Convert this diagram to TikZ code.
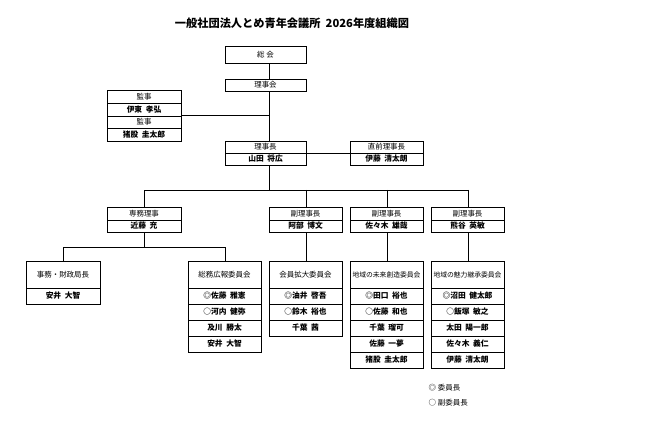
\documentclass[tikz,border=0pt]{standalone}
\usepackage{fontspec}
\setmainfont{Noto Sans CJK JP}
\begin{document}
\begin{tikzpicture}[x=0.75pt,y=-0.75pt,
 bx/.style={draw,line width=0.6pt,fill=white},
 t/.style={font=\fontsize{5.6}{6}\selectfont},
 nm/.style={font=\fontsize{5.8}{6}\selectfont\bfseries},
 ln/.style={line width=0.6pt}]
\useasboundingbox (0,0) rectangle (652,423);
\newcommand\cell[6]{% x1 y1 x2 y2 text style
 \draw[bx] (#1,#2) rectangle (#3,#4);
 \node[#6] at ({(#1+#3)/2},{(#2+#4)/2}) {#5};}
\node[font=\fontsize{8.4}{10}\selectfont\bfseries] (title) at (292,23) {一般社団法人とめ青年会議所\ \ 2026年度組織図};
% connectors
\coordinate (c1) at (269,63); \coordinate (c2) at (269,190);
\draw[ln] (c1) -- (c2);
\coordinate (k1) at (181,115); \coordinate (k2) at (269,115);
\draw[ln] (k1) -- (k2);
\coordinate (z1) at (306,153); \coordinate (z2) at (350,153);
\draw[ln] (z1) -- (z2);
\draw[ln] (144,207) |- (468,190);
\foreach \x in {306,387,468} \draw[ln] (\x,190) -- (\x,207);
\draw[ln] (144,232) -- (144,247);
\draw[ln] (63,261) |- (225,247) -- (225,261);
\foreach \x in {306,387,468} \draw[ln] (\x,232) -- (\x,261);
% top
\cell{225}{46}{306}{63}{総\ 会}{t}
\cell{225}{79}{306}{91}{理事会}{t}
\cell{107}{90}{181}{103}{監事}{t}
\cell{107}{103}{181}{116}{伊東\ \ 孝弘}{nm}
\cell{107}{116}{181}{128}{監事}{t}
\cell{107}{128}{181}{141}{猪股\ \ 圭太郎}{nm}
\cell{225}{141}{306}{153}{理事長}{t}
\cell{225}{153}{306}{165}{山田\ \ 将広}{nm}
\cell{350}{141}{423}{153}{直前理事長}{t}
\cell{350}{153}{423}{165}{伊藤\ \ 清太朗}{nm}
% row 2
\cell{107}{207}{181}{220}{専務理事}{t}
\cell{107}{220}{181}{232}{近藤\ \ 充}{nm}
\cell{269}{207}{342}{220}{副理事長}{t}
\cell{269}{220}{342}{232}{阿部\ \ 博文}{nm}
\cell{350}{207}{423}{220}{副理事長}{t}
\cell{350}{220}{423}{232}{佐々木\ \ 雄哉}{nm}
\cell{431}{207}{504}{220}{副理事長}{t}
\cell{431}{220}{504}{232}{熊谷\ \ 英敏}{nm}
% row 3
\cell{26}{261}{100}{288}{事務・財政局長}{t}
\cell{26}{288}{100}{304}{安井\ \ 大智}{nm}
\cell{188}{261}{261}{288}{総務広報委員会}{t}
\cell{188}{288}{261}{304}{◎佐藤\ \ 雅憲}{nm}
\cell{188}{304}{261}{320}{○河内\ \ 健弥}{nm}
\cell{188}{320}{261}{336}{及川\ \ 勝太}{nm}
\cell{188}{336}{261}{352}{安井\ \ 大智}{nm}
\cell{269}{261}{342}{288}{会員拡大委員会}{t}
\cell{269}{288}{342}{304}{◎油井\ \ 啓吾}{nm}
\cell{269}{304}{342}{320}{○鈴木\ \ 裕也}{nm}
\cell{269}{320}{342}{336}{千葉\ \ 茜}{nm}
\cell{350}{261}{423}{288}{\fontsize{5.1}{6}\selectfont 地域の未来創造委員会}{t}
\cell{350}{288}{423}{304}{◎田口\ \ 裕也}{nm}
\cell{350}{304}{423}{320}{○佐藤\ \ 和也}{nm}
\cell{350}{320}{423}{336}{千葉\ \ 瑠可}{nm}
\cell{350}{336}{423}{352}{佐藤\ \ 一夢}{nm}
\cell{350}{352}{423}{368}{猪股\ \ 圭太郎}{nm}
\cell{431}{261}{504}{288}{\fontsize{5.1}{6}\selectfont 地域の魅力継承委員会}{t}
\cell{431}{288}{504}{304}{◎沼田\ \ 健太郎}{nm}
\cell{431}{304}{504}{320}{○飯塚\ \ 敏之}{nm}
\cell{431}{320}{504}{336}{太田\ \ 陽一郎}{nm}
\cell{431}{336}{504}{352}{佐々木\ \ 義仁}{nm}
\cell{431}{352}{504}{368}{伊藤\ \ 清太朗}{nm}
% legend
\node[t,anchor=west] (lg1) at (424,388) {◎ 委員長};
\node[t,anchor=west] (lg2) at (424,403) {○ 副委員長};
\end{tikzpicture}
\end{document}
